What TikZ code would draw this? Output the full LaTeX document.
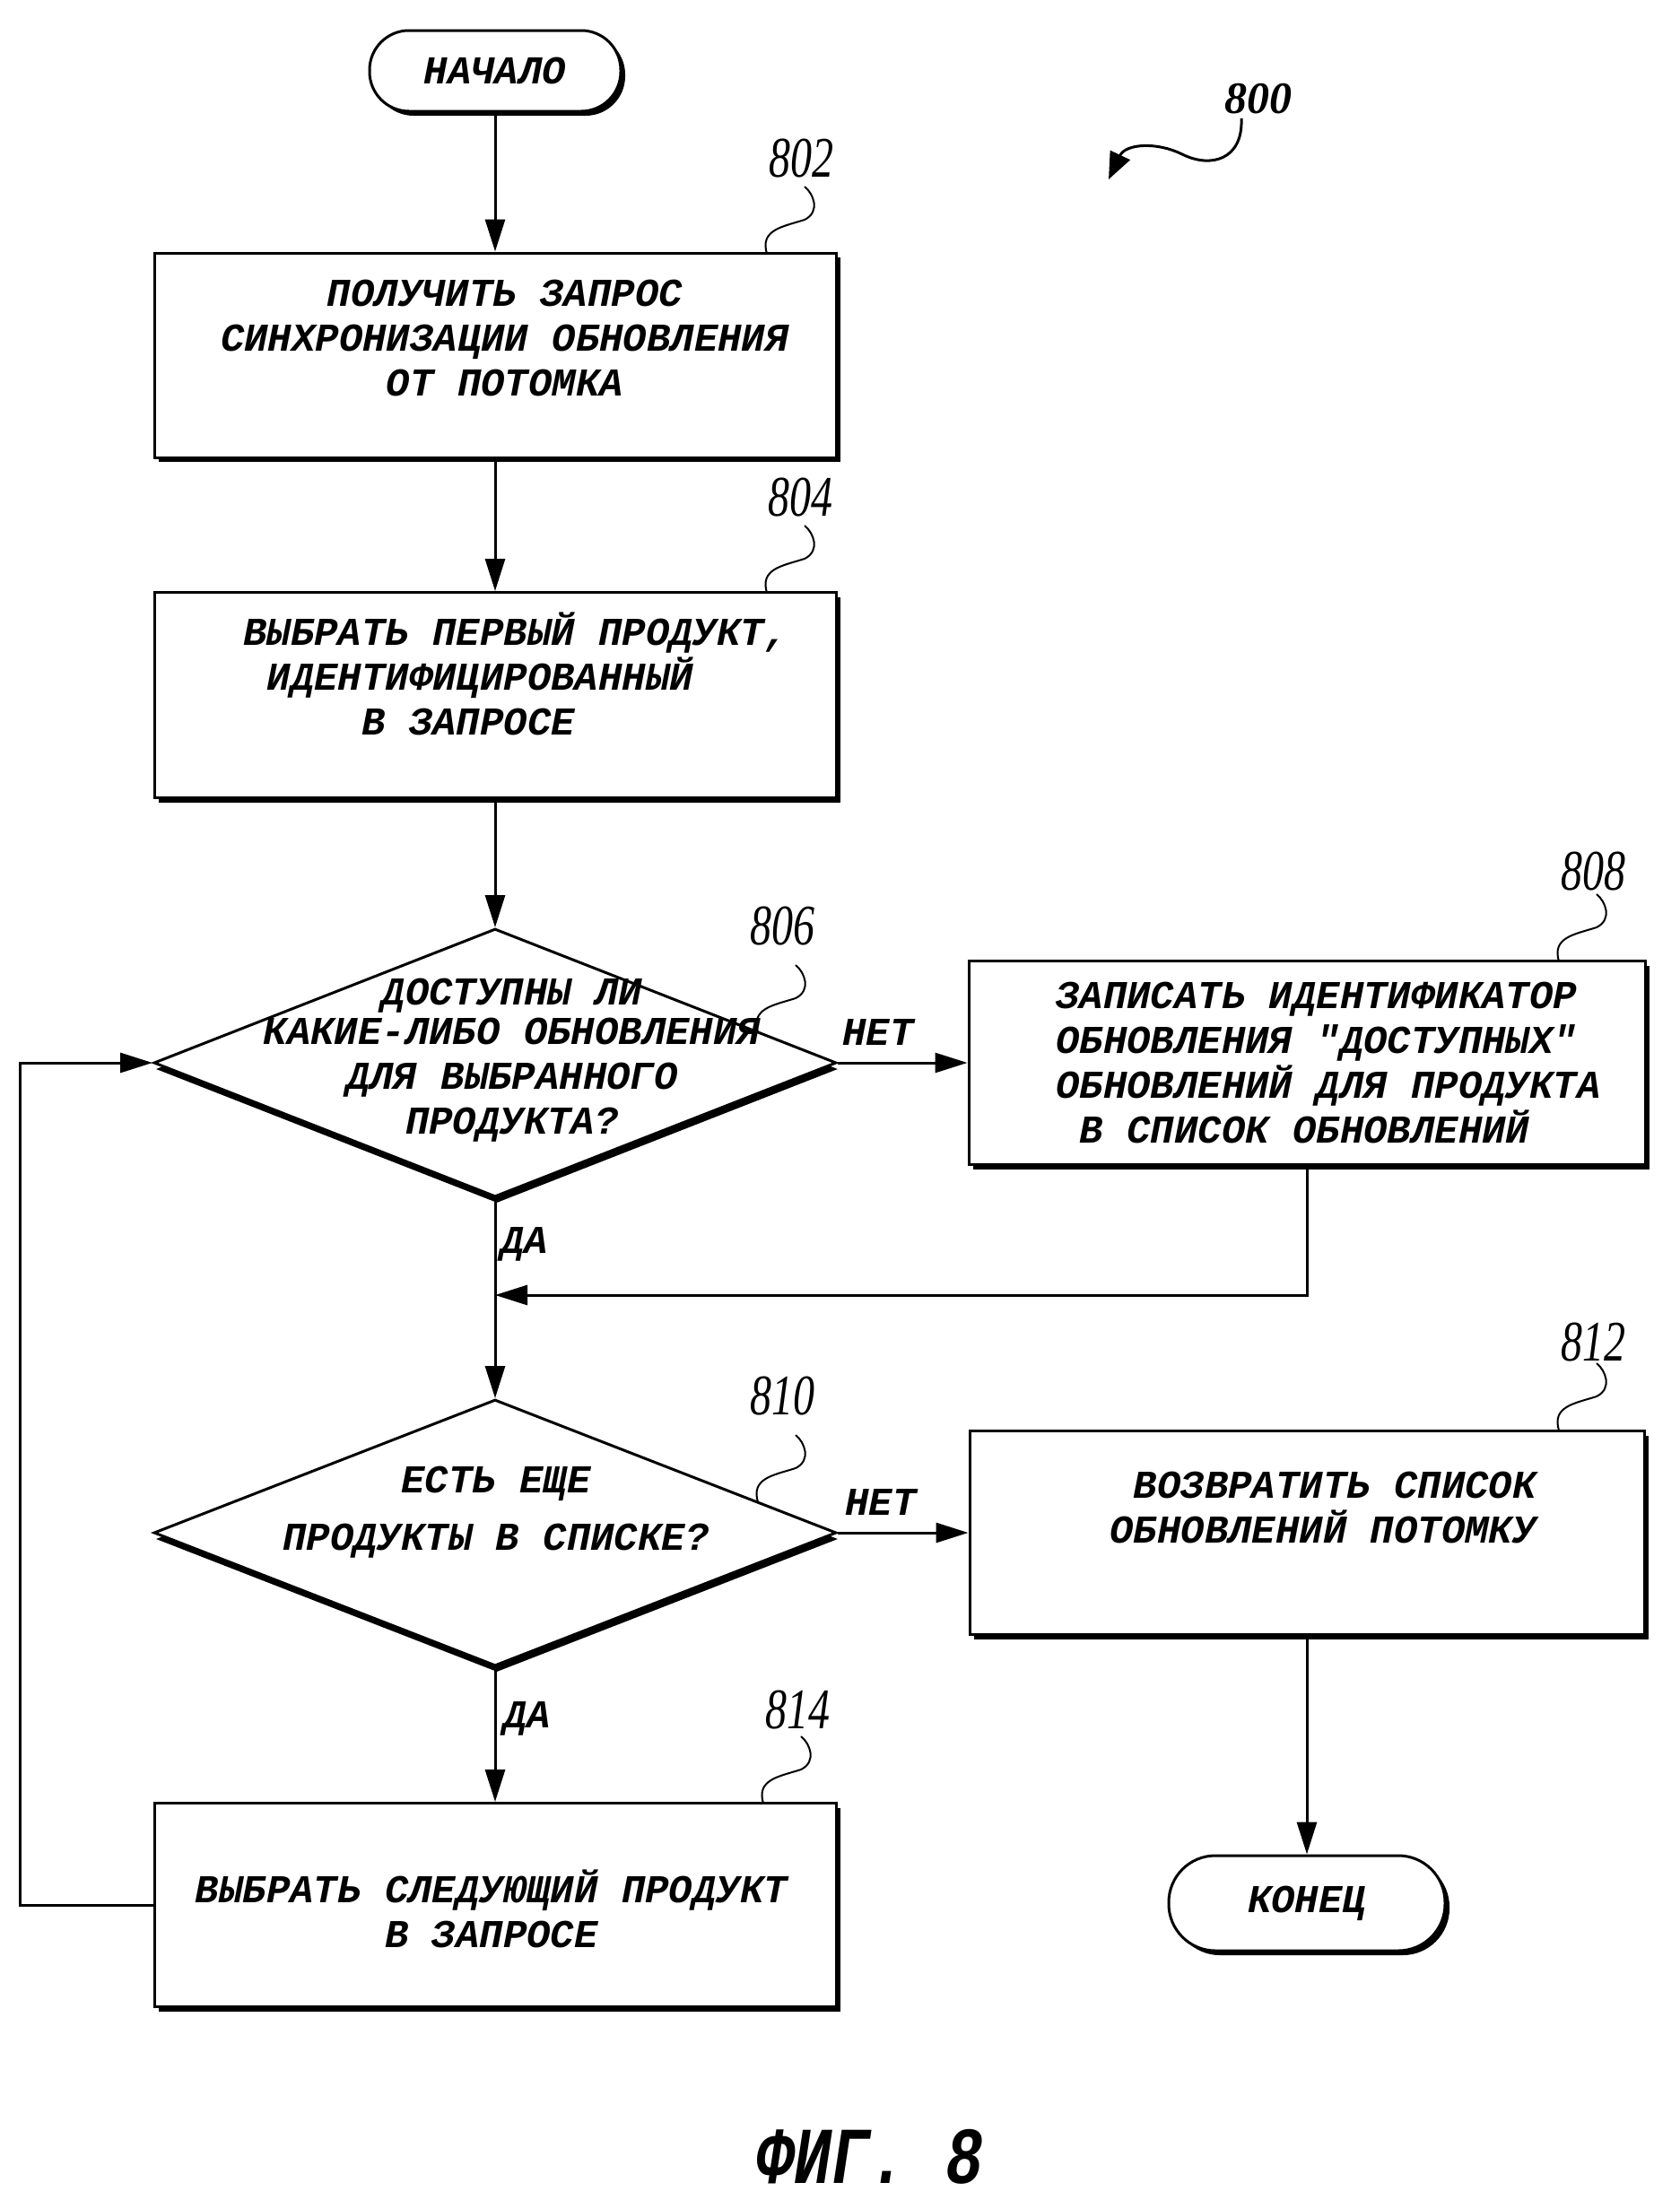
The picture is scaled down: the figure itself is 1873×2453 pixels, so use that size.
\documentclass[tikz,border=0pt]{standalone}
\usepackage{fontspec}
\setmainfont{Liberation Serif}
\newfontfamily\flowfont{Liberation Mono}
\usetikzlibrary{shapes.geometric,arrows.meta,shadows}

\tikzset{
  flowtxt/.style={font=\flowfont\bfseries\itshape\fontsize{44}{50}\selectfont, inner sep=0pt},
  shade box/.style={drop shadow={shadow xshift=5pt,shadow yshift=-5pt,opacity=1,fill=black}},
  procbox/.style={draw, line width=3pt, fill=white, rectangle, inner sep=0pt, shade box},
  decision/.style={draw, line width=3pt, fill=white, diamond, inner sep=0pt,
    drop shadow={shadow xshift=2pt,shadow yshift=-7pt,opacity=1,fill=black}},
  terminal/.style={draw, line width=3pt, fill=white, rectangle, rounded corners=44pt, inner sep=0pt, shade box, flowtxt},
  arr/.style={line width=3pt, -{Triangle[length=36pt,width=22pt]}},
  refnum/.style={font=\itshape\fontsize{64}{64}\selectfont, inner sep=0pt},
  leader/.style={line width=2pt},
}
\newcommand{\refleader}[2]{\draw[leader, shift={(#1,#2)}] (0,0) .. controls (10,8) and (18,28) .. (0,37) .. controls (-25,45) and (-50,48) .. (-42,75);}

\begin{document}
\begin{tikzpicture}[x=1pt,y=-1pt]
	\useasboundingbox (0,0) rectangle (1873,2453);
	\node[terminal, minimum width=280pt, minimum height=90pt] (start) at (552,79) {НАЧАЛО};
	\node[procbox, minimum width=760pt, minimum height=228pt] (b802) at (552,396) {};
	\node[flowtxt, align=center] (t802) at (563,377) {ПОЛУЧИТЬ ЗАПРОС\\СИНХРОНИЗАЦИИ ОБНОВЛЕНИЯ\\ОТ ПОТОМКА};
	\node[procbox, minimum width=760pt, minimum height=229pt] (b804) at (552,775) {};
	\node[flowtxt, align=left, anchor=west] (t804) at (271,751) {ВЫБРАТЬ ПЕРВЫЙ ПРОДУКТ,\\\hspace*{0.6em}ИДЕНТИФИЦИРОВАННЫЙ\\\hspace*{3em}В ЗАПРОСЕ};
	\node[decision, minimum width=761pt, minimum height=299pt] (d806) at (552,1185) {};
	\node[flowtxt, align=center] (t806) at (571,1182) {ДОСТУПНЫ ЛИ\\[-6pt]КАКИЕ-ЛИБО ОБНОВЛЕНИЯ\\ДЛЯ ВЫБРАННОГО\\ПРОДУКТА?};
	\node[procbox, minimum width=754pt, minimum height=227pt] (b808) at (1457,1185) {};
	\node[flowtxt, align=left, anchor=west] (t808) at (1177,1185) {ЗАПИСАТЬ ИДЕНТИФИКАТОР\\ОБНОВЛЕНИЯ "ДОСТУПНЫХ"\\ОБНОВЛЕНИЙ ДЛЯ ПРОДУКТА\\\hspace*{0.6em}В СПИСОК ОБНОВЛЕНИЙ};
	\node[decision, minimum width=761pt, minimum height=297pt] (d810) at (552,1709) {};
	\node[flowtxt, align=center] (t810) at (553,1686) {ЕСТЬ ЕЩЕ\\[14pt]ПРОДУКТЫ В СПИСКЕ?};
	\node[procbox, minimum width=752pt, minimum height=227pt] (b812) at (1457,1709) {};
	\node[flowtxt, align=right, anchor=east] (t812) at (1713,1681) {ВОЗВРАТИТЬ СПИСОК\\ОБНОВЛЕНИЙ ПОТОМКУ};
	\node[procbox, minimum width=760pt, minimum height=227pt] (b814) at (552,2124) {};
	\node[flowtxt, align=center] (t814) at (548,2128) {ВЫБРАТЬ СЛЕДУЮЩИЙ ПРОДУКТ\\В ЗАПРОСЕ};
	\node[terminal, minimum width=308pt, minimum height=106pt, rounded corners=52pt] (end) at (1457,2122) {КОНЕЦ};
	\coordinate (j806) at (552,1444);
	\coordinate (lp) at (22,2124);

	\draw[arr] (start) -- (b802);
	\draw[arr] (b802) -- (b804);
	\draw[arr] (b804) -- (d806);
	\draw[arr] (d806) -- node[flowtxt, pos=0.31, above=18pt] (no1) {НЕТ} (b808);
	\draw[arr] (d806) -- node[flowtxt, pos=0.23, anchor=west, xshift=5pt] (yes1) {ДА} (d810);
	\draw[arr] (b808.south) |- (j806);
	\draw[arr] (d810) -- node[flowtxt, pos=0.33, above=18pt] (no2) {НЕТ} (b812);
	\draw[arr] (d810) -- node[flowtxt, pos=0.38, anchor=west, xshift=8pt] (yes2) {ДА} (b814);
	\draw[arr] (b812) -- (end);
	\draw[arr] (b814.west) -- (lp) |- (d806.west);

	\node[refnum] (n802) at (893,177) {\scalebox{0.75}[1]{802}};
	\node[refnum] (n804) at (892,555) {\scalebox{0.75}[1]{804}};
	\node[refnum] (n806) at (872,1033) {\scalebox{0.75}[1]{806}};
	\node[refnum] (n808) at (1776,972) {\scalebox{0.75}[1]{808}};
	\node[refnum] (n810) at (872,1557) {\scalebox{0.75}[1]{810}};
	\node[refnum] (n812) at (1776,1497) {\scalebox{0.75}[1]{812}};
	\node[refnum] (n814) at (889,1907) {\scalebox{0.75}[1]{814}};
	\refleader{897}{208}
	\refleader{897}{586}
	\refleader{887}{1076}
	\refleader{1780}{997}
	\refleader{887}{1600}
	\refleader{1780}{1520}
	\refleader{893}{1936}

	\node[font=\bfseries\itshape\fontsize{50}{50}\selectfont, inner sep=0pt] (n800) at (1403,110) {800};
	\draw[line width=3pt, -{Triangle[length=30pt,width=24pt]}] (1384,132) .. controls (1386,178) and (1350,188) .. (1318,172) .. controls (1290,158) and (1255,160) .. (1236,200);

	\node[font=\flowfont\bfseries\itshape\fontsize{90}{90}\selectfont, inner sep=0pt] (fig) at (970,2405) {\scalebox{0.78}[1]{ФИГ.\ 8}};
\end{tikzpicture}
\end{document}
